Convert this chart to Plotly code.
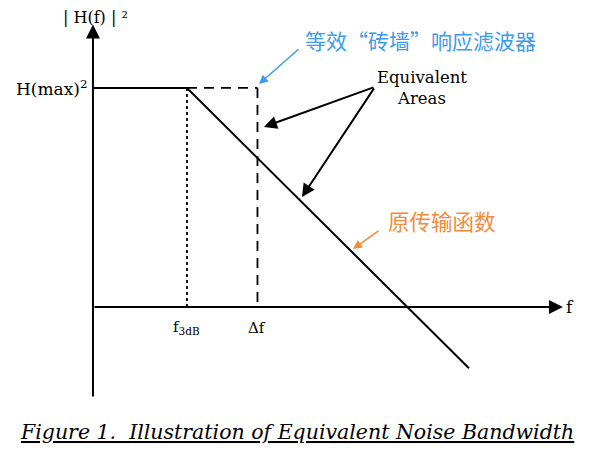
import plotly.graph_objects as go

# ---- data (diagram units: f3dB = 1, H(max)^2 = 1) ----
orig_f = [0.0, 1.0, 4.0]          # original transfer function knots
orig_h = [1.0, 1.0, -0.28]
brick_top_f = [1.0, 1.75]         # brick-wall top (dashed)
brick_top_h = [1.0, 1.0]
brick_side_f = [1.75, 1.75]       # brick-wall edge (dashed)
brick_side_h = [1.0, 0.0]
f3db_f = [1.0, 1.0]               # dotted guide at f3dB
f3db_h = [0.0, 1.0]
tick_pos = [1.0, 1.75]
tick_labels = ["f<sub>3dB</sub>", "Δf"]

SERIF = "DejaVu Serif"
CJK = "Noto Sans CJK SC"
BLUE = "#3d9be9"
ORANGE = "#f28c38"

fig = go.Figure()
fig.add_trace(go.Scatter(x=orig_f, y=orig_h, mode="lines",
                         line=dict(color="black", width=2), hoverinfo="skip"))
fig.add_trace(go.Scatter(x=brick_top_f, y=brick_top_h, mode="lines",
                         line=dict(color="black", width=1.8, dash="10px,7px"), hoverinfo="skip"))
fig.add_trace(go.Scatter(x=brick_side_f, y=brick_side_h, mode="lines",
                         line=dict(color="black", width=1.8, dash="10px,7px"), hoverinfo="skip"))
fig.add_trace(go.Scatter(x=f3db_f, y=f3db_h, mode="lines",
                         line=dict(color="black", width=1.8, dash="dot"), hoverinfo="skip"))

ann = []
# axes with arrows
ann.append(dict(x=0, y=1.29, ax=0, ay=-0.416, xref="x", yref="y", axref="x", ayref="y",
                text="", showarrow=True, arrowhead=2, arrowsize=1.4, arrowwidth=2, arrowcolor="black"))
ann.append(dict(x=5.0, y=0, ax=0, ay=0, xref="x", yref="y", axref="x", ayref="y",
                text="", showarrow=True, arrowhead=2, arrowsize=1.4, arrowwidth=2, arrowcolor="black"))
# axis labels
ann.append(dict(x=0.03, y=1.322, xref="x", yref="y", text="| H(f) | ²", showarrow=False,
                font=dict(family=SERIF, size=16, color="black")))
ann.append(dict(x=-0.03, y=1.0, xref="x", yref="y", text="H(max)<sup>2</sup>", showarrow=False,
                xanchor="right", font=dict(family=SERIF, size=17, color="black")))
ann.append(dict(x=5.07, y=0.0, xref="x", yref="y", text="f", showarrow=False,
                font=dict(family=SERIF, size=17, color="black")))
for p, t in zip(tick_pos, tick_labels):
    ann.append(dict(x=p, y=-0.095, xref="x", yref="y", text=t, showarrow=False,
                    font=dict(family=SERIF, size=15, color="black")))
# equivalent areas
ann.append(dict(x=3.5, y=1.0, xref="x", yref="y", text="Equivalent<br>Areas", showarrow=False,
                font=dict(family=SERIF, size=16.5, color="black")))
for tx, ty in [(1.819, 0.822), (2.223, 0.502)]:
    ann.append(dict(x=tx, y=ty, ax=3.0, ay=1.005, xref="x", yref="y", axref="x", ayref="y",
                    text="", showarrow=True, arrowhead=2, arrowsize=1.3, arrowwidth=2, arrowcolor="black"))
# blue label
ann.append(dict(x=3.489, y=1.219, xref="x", yref="y", text="等效“砖墙”响应滤波器", showarrow=False,
                font=dict(family=CJK, size=21, color=BLUE)))
ann.append(dict(x=1.766, y=1.018, ax=2.202, ay=1.183, xref="x", yref="y", axref="x", ayref="y",
                text="", showarrow=True, arrowhead=2, arrowsize=1.2, arrowwidth=1.5, arrowcolor=BLUE))
# orange label
ann.append(dict(x=3.713, y=0.393, xref="x", yref="y", text="原传输函数", showarrow=False,
                font=dict(family=CJK, size=21.5, color=ORANGE)))
ann.append(dict(x=2.766, y=0.265, ax=3.053, ay=0.352, xref="x", yref="y", axref="x", ayref="y",
                text="", showarrow=True, arrowhead=2, arrowsize=1.2, arrowwidth=1.5, arrowcolor=ORANGE))
# caption
ann.append(dict(x=2.17, y=-0.571, xref="x", yref="y",
                text="<u><i>Figure 1.  Illustration of Equivalent Noise Bandwidth</i></u>", showarrow=False,
                font=dict(family=SERIF, size=20.5, color="black")))

# page body has an 8px margin: the figure occupies page pixels 8..600 x 8..452
fig.update_layout(
    width=592, height=444, margin=dict(l=0, r=0, t=0, b=0),
    paper_bgcolor="white", plot_bgcolor="white", showlegend=False,
    xaxis=dict(range=[-0.904, 5.394], visible=False, fixedrange=True),
    yaxis=dict(range=[-0.662, 1.365], visible=False, fixedrange=True),
    annotations=ann,
)
fig.write_html("out.html")
